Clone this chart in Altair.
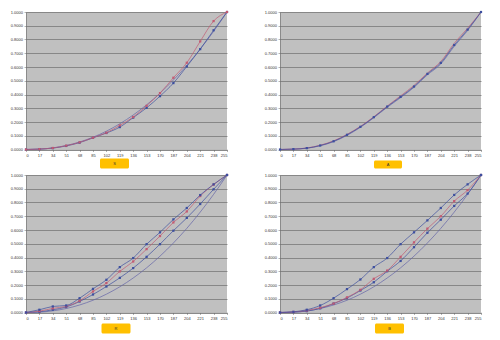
import altair as alt
import pandas as pd

X = [0, 17, 34, 51, 68, 85, 102, 119, 136, 153, 170, 187, 204, 221, 238, 255]
Y_TICKS = [0, 0.1, 0.2, 0.3, 0.4, 0.5, 0.6, 0.7, 0.8, 0.9, 1.0]

GAMMA = [0, 0.0026, 0.0119, 0.029, 0.0546, 0.0892, 0.1332, 0.187, 0.2508, 0.325,
         0.4098, 0.5054, 0.612, 0.73, 0.859, 1]

P1_BLUE = [0, 0.003, 0.01, 0.026, 0.05, 0.085, 0.12, 0.163, 0.232, 0.303, 0.388, 0.483, 0.604, 0.73, 0.867, 1]
P1_RED = [0, 0.003, 0.011, 0.028, 0.052, 0.086, 0.122, 0.175, 0.236, 0.318, 0.41, 0.522, 0.631, 0.786, 0.934, 1]

P2_BLUE = [0, 0.003, 0.01, 0.029, 0.06, 0.107, 0.165, 0.235, 0.312, 0.383, 0.458, 0.55, 0.63, 0.76, 0.872, 1]
P2_RED = [0, 0.003, 0.011, 0.031, 0.063, 0.11, 0.168, 0.238, 0.316, 0.39, 0.466, 0.556, 0.64, 0.772, 0.882, 1]
P2_PURPLE = [0, 0.002, 0.009, 0.027, 0.057, 0.103, 0.161, 0.231, 0.307, 0.377, 0.452, 0.543, 0.622, 0.75, 0.865, 1]

P3_BLUE = [0, 0.02, 0.044, 0.051, 0.104, 0.172, 0.238, 0.33, 0.396, 0.497, 0.583, 0.677, 0.76, 0.854, 0.932, 1]
P3_RED = [0, 0.01, 0.03, 0.045, 0.085, 0.153, 0.214, 0.299, 0.371, 0.461, 0.556, 0.655, 0.735, 0.847, 0.93, 1]
P3_GREEN = [0, 0.005, 0.02, 0.04, 0.08, 0.131, 0.189, 0.252, 0.323, 0.405, 0.497, 0.595, 0.688, 0.789, 0.896, 1]

P4_BLUE = [0, 0.005, 0.02, 0.051, 0.104, 0.17, 0.24, 0.33, 0.396, 0.497, 0.583, 0.67, 0.76, 0.855, 0.932, 1]
P4_RED = [0, 0.004, 0.015, 0.035, 0.065, 0.11, 0.165, 0.245, 0.305, 0.405, 0.51, 0.61, 0.7, 0.81, 0.89, 1]
P4_GREEN = [0, 0.003, 0.01, 0.03, 0.065, 0.105, 0.16, 0.22, 0.3, 0.375, 0.475, 0.58, 0.675, 0.775, 0.865, 1]

LABELS = ["S", "A", "R", "B"]

BLUE = "#3d4f9f"
RED = "#c25a72"
GREEN = "#4e9a4e"
ORANGE = "#d9773a"
PURPLE = "#7a6ab0"
REF = "#6464a8"

FONT = "Liberation Sans"
W, H = 201, 137.5


def panel(series, label, box):
    rows = []
    for name, vals, color, mk in series:
        for xv, yv in zip(X, vals):
            rows.append({"x": xv, "y": yv, "s": name, "m": mk})
    df = pd.DataFrame(rows)
    names = [s[0] for s in series]
    colors = [s[2] for s in series]
    xenc = alt.X("x:Q", scale=alt.Scale(domain=[0, 255], nice=False, zero=False),
                 axis=alt.Axis(values=X, tickCount=40, format="d", title=None, labelFontSize=4,
                               labelFont=FONT, labelColor="#333", tickSize=2,
                               tickColor="#666", domainColor="#666", domainWidth=0.6,
                               tickWidth=0.5, labelPadding=2, grid=False,
                               labelOverlap=False))
    yenc = alt.Y("y:Q", scale=alt.Scale(domain=[0, 1], nice=False),
                 axis=alt.Axis(values=Y_TICKS, tickCount=40, format=".4f", title=None,
                               labelFontSize=4, labelFont=FONT, labelColor="#333", tickSize=2,
                               tickColor="#666", domainColor="#666", domainWidth=0.6,
                               tickWidth=0.5, labelPadding=1.5, grid=True,
                               gridColor="#6e6e6e", gridWidth=0.7, gridOpacity=1,
                               minExtent=16, maxExtent=16, labelOverlap=False))
    cenc = alt.Color("s:N", scale=alt.Scale(domain=names, range=colors), legend=None)
    base = alt.Chart(df)
    lines = base.mark_line(strokeWidth=0.7, interpolate="monotone").encode(
        x=xenc, y=yenc, color=cenc, detail="s:N")
    pts = base.transform_filter(alt.datum.m).mark_point(
        shape="square", filled=True, size=5, opacity=1).encode(x="x:Q", y="y:Q", color=cenc)
    lab = pd.DataFrame({"t": [label]})
    x0, x1, y0, y1 = box
    rect = alt.Chart(lab).mark_rect(color="#ffc000", cornerRadius=1.5).encode(
        x=alt.value(x0), x2=alt.value(x1), y=alt.value(y0), y2=alt.value(y1))
    txt = alt.Chart(lab).mark_text(fontSize=4, font=FONT, color="#333",
                                   align="center", baseline="middle").encode(
        x=alt.value((x0 + x1) / 2), y=alt.value((y0 + y1) / 2 + 0.5), text="t:N")
    return alt.layer(lines, pts, rect, txt).properties(width=W, height=H)


p1 = panel([("ref", GAMMA, REF, False), ("blue", P1_BLUE, BLUE, True),
            ("red", P1_RED, RED, True)], LABELS[0], (74, 103, 146.5, 156.5))
p2 = panel([("purple", P2_PURPLE, PURPLE, False), ("red", P2_RED, RED, False),
            ("blue", P2_BLUE, BLUE, True)], LABELS[1], (94, 122, 148.5, 156.5))
p3 = panel([("ref", GAMMA, REF, False), ("green", P3_GREEN, GREEN, True),
            ("red", P3_RED, RED, True), ("blue", P3_BLUE, BLUE, True)],
           LABELS[2], (75.5, 104.5, 148.5, 158.5))
p4 = panel([("ref", GAMMA, REF, False), ("green", P4_GREEN, GREEN, True),
            ("red", P4_RED, ORANGE, True), ("blue", P4_BLUE, BLUE, True)],
           LABELS[3], (95, 124, 148.5, 158.5))

chart = alt.concat(p1, p2, p3, p4, columns=2,
                   spacing={"row": 25, "column": 53}, bounds="flush").properties(
    padding={"left": 10, "top": 10, "right": 2, "bottom": 2},
    background="white",
).configure_view(fill="#c0c0c0", stroke=None)

chart.save("out.html", embed_options={"renderer": "svg", "actions": False})
